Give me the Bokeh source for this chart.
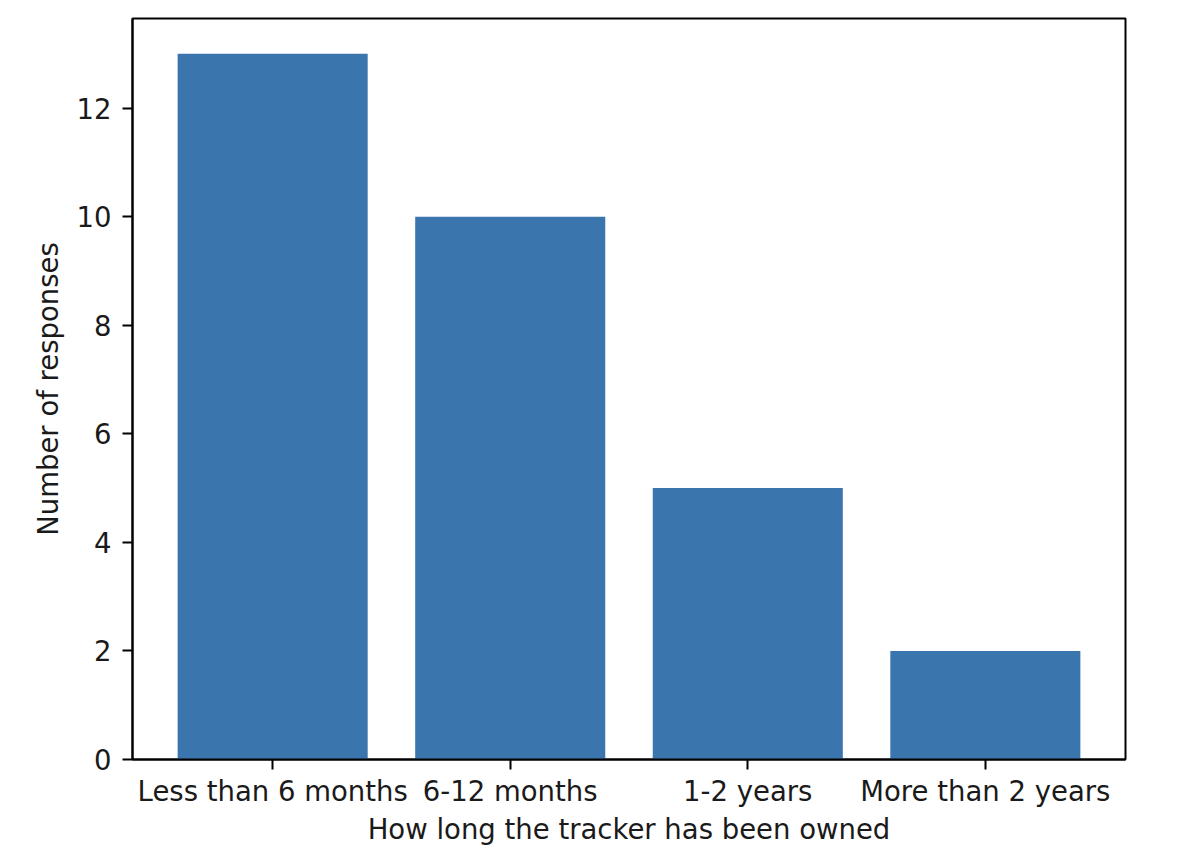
from bokeh.plotting import figure
from bokeh.models import FactorRange, Range1d, FixedTicker, ColumnDataSource
from bokeh.embed import file_html
from bokeh.resources import INLINE

categories = ["Less than 6 months", "6-12 months", "1-2 years", "More than 2 years"]
responses = [13, 10, 5, 2]
y_ticks = [0, 2, 4, 6, 8, 10, 12]

FONT = "DejaVu Sans"
FS = "27.5px"

src = ColumnDataSource(dict(cat=categories, n=responses))

p = figure(
    width=1170, height=852,
    x_range=FactorRange(factors=categories, range_padding=0.09, range_padding_units="absolute"),
    y_range=Range1d(0, max(responses) * 1.05),
    output_backend="svg", toolbar_location=None,
    min_border_left=132, min_border_right=45, min_border_top=18, min_border_bottom=93,
)

p.vbar(x="cat", top="n", width=0.8, source=src, fill_color="#3A75AE", line_color=None)

p.xgrid.visible = False
p.ygrid.visible = False
p.outline_line_color = "black"
p.outline_line_width = 2
p.outline_line_alpha = 1

p.yaxis.ticker = FixedTicker(ticks=y_ticks)
for ax in (p.xaxis[0], p.yaxis[0]):
    ax.axis_line_color = "black"
    ax.axis_line_width = 2
    ax.major_tick_line_color = "black"
    ax.major_tick_line_width = 2
    ax.major_tick_in = 0
    ax.major_tick_out = 10
    ax.minor_tick_line_color = None
    ax.major_label_text_font = FONT
    ax.major_label_text_font_size = FS
    ax.major_label_text_color = "#1a1a1a"
    ax.axis_label_text_font = FONT
    ax.axis_label_text_font_size = FS
    ax.axis_label_text_font_style = "normal"
    ax.axis_label_text_color = "#1a1a1a"

p.xaxis.axis_label = "How long the tracker has been owned"
p.yaxis.axis_label = "Number of responses"
p.xaxis.major_label_standoff = 5
p.xaxis.axis_label_standoff = 3
p.yaxis.major_label_standoff = 11
p.yaxis.axis_label_standoff = 10

open("out.html", "w").write(file_html(p, INLINE))
